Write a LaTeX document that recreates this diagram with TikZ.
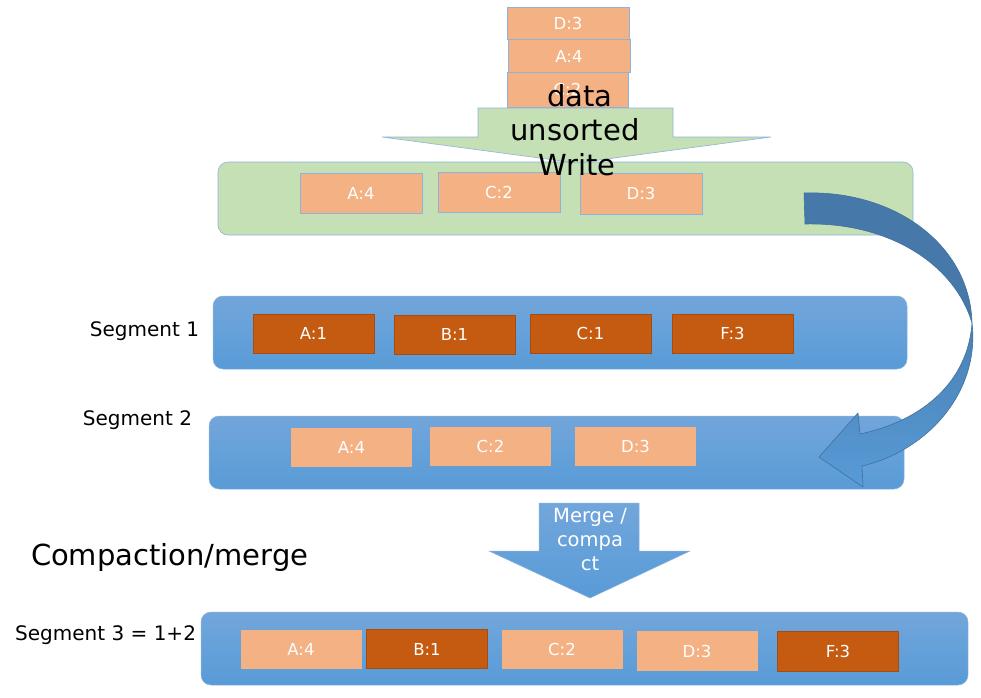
\documentclass[tikz,border=0pt]{standalone}
\usepackage{fontspec}
\setmainfont{DejaVu Sans}
\definecolor{lightor}{RGB}{244,177,131}
\definecolor{darkor}{RGB}{197,90,17}
\definecolor{greenfill}{RGB}{197,224,180}
\definecolor{edgeblue}{RGB}{143,178,220}
\definecolor{segtop}{RGB}{114,166,219}
\definecolor{segbot}{RGB}{88,155,215}
\definecolor{arrdark}{RGB}{70,121,170}
\definecolor{arrstroke}{RGB}{65,113,156}
\begin{document}
\begin{tikzpicture}[x=1pt,y=-1pt,
  every node/.style={inner sep=0pt,outer sep=0pt},
  keybox/.style={rectangle,minimum width=121pt,minimum height=39pt,text=white,font=\fontsize{16.5}{19}\selectfont},
  lightkey/.style={keybox,fill=lightor},
  lightkeyedge/.style={keybox,fill=lightor,draw=edgeblue,line width=0.6pt},
  darkkey/.style={keybox,fill=darkor,draw=darkor!85!black,line width=0.4pt},
  segbox/.style={rounded corners=10pt,top color=segtop,bottom color=segbot,draw=edgeblue,line width=0.5pt},
  seglabel/.style={anchor=base east,font=\fontsize{20}{24}\selectfont},
  bigtext/.style={anchor=base,font=\fontsize{29}{35}\selectfont},
  mergetext/.style={anchor=base,text=white,font=\fontsize{19.5}{24}\selectfont}]
\useasboundingbox (0,0) rectangle (981,697);

% incoming records on top
\node[lightkeyedge,minimum width=122pt,minimum height=32pt] (tD) at (568,23) {D:3};
\node[lightkeyedge,minimum width=122pt,minimum height=33pt] (tA) at (569,56) {A:4};
\node[lightkeyedge,minimum width=121pt,minimum height=35pt] (tC) at (567.5,89.5) {C:2};

% write buffer (green)
\draw[fill=greenfill,draw=edgeblue,line width=0.6pt,rounded corners=10pt] (218,162) rectangle (913,235);
\node (membuf) at (565.5,198.5) {};

% green write arrow
\draw[fill=greenfill,draw=edgeblue,line width=0.6pt]
  (478,108) -- (673,108) -- (673,137) -- (771,137) -- (577,163) -- (382,137) -- (478,137) -- cycle;

\node[lightkeyedge,minimum width=122pt,minimum height=40pt] (mA) at (361,193) {A:4};
\node[lightkeyedge,minimum width=122pt,minimum height=40pt] (mC) at (499,192) {C:2};
\node[lightkeyedge,minimum width=122pt,minimum height=41pt] (mD) at (641,193.5) {D:3};

\node[bigtext] (tdata) at (580,106) {data};
\node[bigtext] (tuns) at (575,140) {unsorted};
\node[bigtext] (twrite) at (577,175) {Write};

% segment 1
\draw[segbox] (213,296) rectangle (907,369);
\node[seglabel] (s1l) at (199,336) {Segment 1};
\node[darkkey] (s1A) at (313.5,333.5) {A:1};
\node[darkkey] (s1B) at (454.5,334.5) {B:1};
\node[darkkey] (s1C) at (590.5,333.5) {C:1};
\node[darkkey] (s1F) at (732.5,333.5) {F:3};

% segment 2
\draw[segbox] (209,416) rectangle (904,489);
\node[seglabel] (s2l) at (192,425) {Segment 2};
\node[lightkey] (s2A) at (351.5,447.5) {A:4};
\node[lightkey] (s2C) at (490.5,446.5) {C:2};
\node[lightkey] (s2D) at (635.5,446.5) {D:3};

% curved flush arrow
\draw[fill=arrdark,draw=arrstroke,line width=0.6pt,line join=round]
  (804,193) .. controls (895,190) and (970,245) .. (972,323)
  .. controls (955,265) and (890,222) .. (805,224) -- cycle;
\draw[top color=arrdark!80!segbot,bottom color=segbot,draw=arrstroke,line width=0.6pt,line join=round]
  (972,323) .. controls (980,390) and (930,450) .. (862,466)
  -- (863,487) -- (819,457) -- (858,413) -- (860,434)
  .. controls (925,420) and (968,380) .. (972,323) -- cycle;

% merge arrow
\draw[top color=segtop,bottom color=segbot,draw=edgeblue,line width=0.5pt]
  (539,503) -- (639,503) -- (639,551) -- (690,551) -- (590,598) -- (489,551) -- (539,551) -- cycle;
\node[mergetext] (mg1) at (590,522) {Merge /};
\node[mergetext] (mg2) at (590,546) {compa};
\node[mergetext] (mg3) at (590,570) {ct};

\node[anchor=base west,font=\fontsize{29}{35}\selectfont] (cm) at (31,565) {Compaction/merge};

% segment 3
\draw[segbox] (201,612) rectangle (968,685);
\node[seglabel] (s3l) at (196,640) {Segment 3 = 1+2};
\node[lightkey] (s3A) at (301,649) {A:4};
\node[darkkey] (s3B) at (427,649) {B:1};
\node[lightkey] (s3C) at (562,649) {C:2};
\node[lightkey,minimum height=40pt] (s3D) at (697,651) {D:3};
\node[darkkey,minimum height=40pt] (s3F) at (838,651) {F:3};
\end{tikzpicture}
\end{document}
